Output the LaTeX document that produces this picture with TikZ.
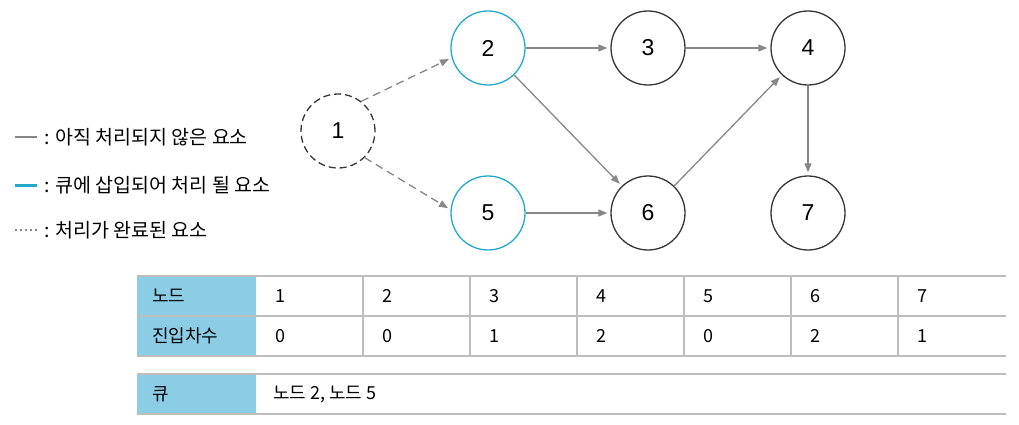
\documentclass[tikz,border=0pt]{standalone}
\usepackage{fontspec}
\setmainfont{Liberation Sans}
\newfontfamily\kr{Noto Sans CJK KR}
\usepackage{xcolor}
\usetikzlibrary{arrows.meta, positioning}
\definecolor{qblue}{RGB}{35,170,200}
\definecolor{headfill}{RGB}{140,205,230}
\definecolor{edgegray}{RGB}{135,135,135}
\definecolor{rulegray}{RGB}{190,190,190}
\definecolor{ringgray}{RGB}{55,55,55}
\tikzset{
    graphdiagram/.style={>={Triangle[length=9pt,width=7pt]}, x=1pt, y=-1pt},
    vtx/.style={draw=ringgray, circle, line width=1.3pt, minimum size=74pt, inner sep=0pt, font=\fontsize{23}{23}\selectfont},
    queued/.style={vtx, draw=qblue},
    done/.style={vtx, dashed, dash pattern=on 7pt off 4pt},
    edge/.style={->, draw=edgegray, line width=1.3pt, shorten >=3pt},
    doneedge/.style={edge, dash pattern=on 8pt off 5pt},
    % legend and table text
    legend/.style={anchor=west, inner sep=0pt, font=\kr\fontsize{19.5}{19.5}\selectfont},
    cell/.style={anchor=west, inner sep=0pt, font=\kr\fontsize{18}{18}\selectfont},
    rule/.style={draw=rulegray, line width=1.8pt},
}
\begin{document}
\begin{tikzpicture}[graphdiagram]
    \useasboundingbox (0,0) rectangle (1019,425);

    % graph
    \node[done]   (n1) at (338,131) {1};
    \node[queued] (n2) at (488,48)  {2};
    \node[vtx]    (n3) at (648,48)  {3};
    \node[vtx]    (n4) at (808,48)  {4};
    \node[queued] (n5) at (488,213) {5};
    \node[vtx]    (n6) at (648,213) {6};
    \node[vtx]    (n7) at (808,213) {7};

    \draw[doneedge] (n1.52) -- (n2.195);
    \draw[doneedge] (n1.-45) -- (n5.175);
    \draw[edge] (n2) -- (n3);
    \draw[edge] (n3) -- (n4);
    \draw[edge] (n2) -- (n6);
    \draw[edge] (n5) -- (n6);
    \draw[edge] (n6) -- (n4);
    \draw[edge] (n4) -- (n7);

    % legend
    \coordinate (l1a) at (15,137);  \coordinate (l1b) at (37,137);
    \coordinate (l2a) at (15,185);  \coordinate (l2b) at (37,185);
    \coordinate (l3a) at (15,230);  \coordinate (l3b) at (37,230);
    \draw[edgegray, line width=2.6pt] (l1a) -- (l1b);
    \draw[qblue, line width=3pt] (l2a) -- (l2b);
    \draw[edgegray, line width=2pt, dash pattern=on 2pt off 3pt] (l3a) -- (l3b);
    \node[legend] (t1) at (44,137) {: 아직 처리되지 않은 요소};
    \node[legend] (t2) at (44,185) {: 큐에 삽입되어 처리 될 요소};
    \node[legend] (t3) at (44,230) {: 처리가 완료된 요소};

    % in-degree table
    \fill[headfill] (137,276) rectangle (256,356);
    \fill[headfill] (137,374) rectangle (256,414);
    \foreach \y in {276,316,356,374,414}
        \draw[rule] (137,\y) -- (1006,\y);
    \foreach \i in {1,...,6}
        \draw[rule] (256+107*\i,276) -- (256+107*\i,356);

    \node[cell] (hnode) at (152,296) {노드};
    \node[cell] (hdeg)  at (152,336) {진입차수};
    \node[cell] (hq)    at (152,394) {큐};
    \foreach \v [count=\i] in {0,0,1,2,0,2,1} {
        \node[cell] (id\i)  at (256+107*\i-88,296) {\i};
        \node[cell] (deg\i) at (256+107*\i-88,336) {\v};
    }
    \node[cell] (qval) at (273,394) {노드 2, 노드 5};
\end{tikzpicture}
\end{document}
